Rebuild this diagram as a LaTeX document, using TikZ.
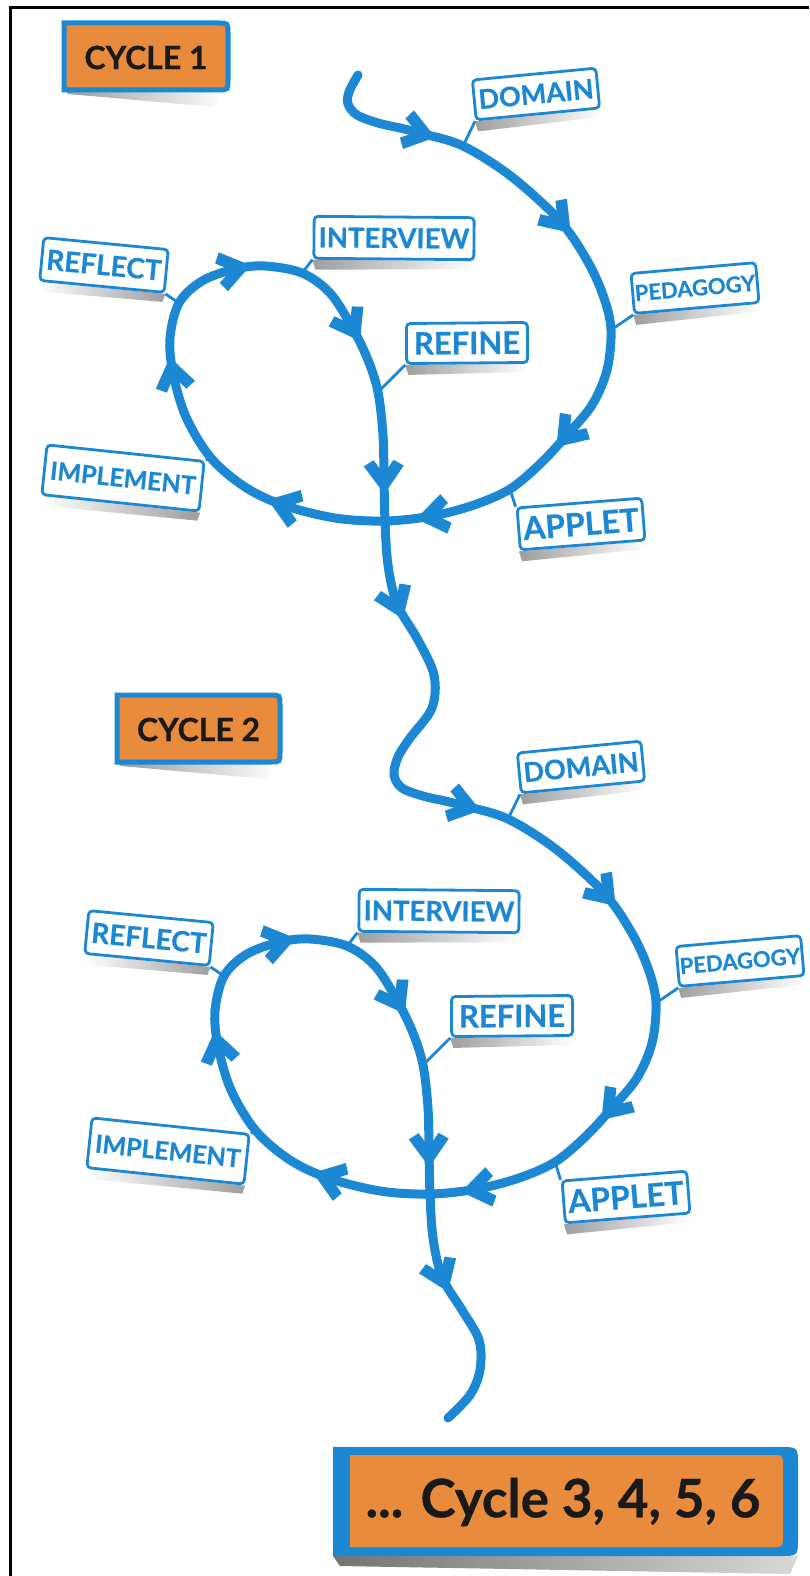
\documentclass[tikz,border=0pt]{standalone}
\usepackage{fontspec}
\setmainfont{Lato}[BoldFeatures={FakeBold=0.6}]
\usetikzlibrary{calc,backgrounds}
\definecolor{cblue}{RGB}{28,136,212}
\definecolor{corange}{RGB}{233,139,60}
\tikzset{
 curve/.style={draw=cblue,line width=9pt,line cap=round,line join=round},
 lab/.style={draw=cblue,line width=2.8pt,fill=white,rounded corners=4pt,text=cblue,inner sep=0pt},
 conn/.style={draw=cblue,line width=2.8pt},
 shR/.style={left color=black!38,right color=white},
 shL/.style={left color=white,right color=black!38},
}
\newcommand\lab[9]{%
  \node[lab,rotate=#4,minimum width=#5pt,minimum height=#6pt,font=\fontsize{#7}{#7}\selectfont\bfseries] (#1) at (#2,#3) {#8};
  \begin{scope}[on background layer]
    \shade[#9] (#1.south west) -- (#1.south east) -- ($(#1.south east)+(-3,8)$) -- ($(#1.south west)+(3,10)$) -- cycle;
  \end{scope}}
\newcommand\arrowmid[3]{%
 \pgfmathanglebetweenpoints{\pgfpointanchor{#1}{center}}{\pgfpointanchor{#3}{center}}%
 \edef\myang{\pgfmathresult}%
 \fill[cblue,shift={(#2)},rotate=\myang] (16,0) -- (-12,-20) -- (-18,-10) -- (-4,0) -- (-18,10) -- (-12,20) -- cycle;}
\newcommand\loopcoords[3]{%
 \coordinate (#1s2) at (357+#2,115+#3);
 \coordinate (#1s3) at (378+#2,123+#3);
 \coordinate (#1s3b) at (400+#2,128+#3);
 \coordinate (#1a1) at (420+#2,133+#3);
 \coordinate (#1dom) at (463+#2,146+#3);
 \coordinate (#1s5) at (512+#2,177+#3);
 \coordinate (#1a2) at (560+#2,221+#3);
 \coordinate (#1s6) at (588+#2,262+#3);
 \coordinate (#1s7) at (604+#2,298+#3);
 \coordinate (#1ped) at (611+#2,330+#3);
 \coordinate (#1s8) at (607+#2,370+#3);
 \coordinate (#1s9) at (592+#2,405+#3);
 \coordinate (#1a3) at (567+#2,435+#3);
 \coordinate (#1s10) at (540+#2,464+#3);
 \coordinate (#1app) at (510+#2,489+#3);
 \coordinate (#1s12) at (474+#2,505+#3);
 \coordinate (#1a4) at (432+#2,516+#3);
 \coordinate (#1x) at (385+#2,521+#3);
 \coordinate (#1s13) at (335+#2,518+#3);
 \coordinate (#1a5) at (283+#2,505+#3);
 \coordinate (#1s14) at (245+#2,487+#3);
 \coordinate (#1imp) at (211+#2,458+#3);
 \coordinate (#1s16) at (186+#2,417+#3);
 \coordinate (#1a6) at (173+#2,373+#3);
 \coordinate (#1s17) at (170+#2,338+#3);
 \coordinate (#1refl) at (179+#2,303+#3);
 \coordinate (#1s19) at (202+#2,281+#3);
 \coordinate (#1a7) at (235+#2,269+#3);
 \coordinate (#1s20) at (265+#2,266+#3);
 \coordinate (#1int) at (302+#2,273+#3);
 \coordinate (#1s22) at (330+#2,293+#3);
 \coordinate (#1a8) at (352+#2,327+#3);
 \coordinate (#1s23) at (368+#2,360+#3);
 \coordinate (#1ref) at (378+#2,392+#3);
 \coordinate (#1s25) at (383+#2,435+#3);
 \coordinate (#1a9) at (384+#2,478+#3);
 \coordinate (#1s26) at (388+#2,565+#3);
 \coordinate (#1a10) at (397+#2,604+#3);
}
\newcommand\arrowset[1]{%
 \arrowmid{#1s3b}{#1a1}{#1dom}
 \arrowmid{#1s5}{#1a2}{#1s6}
 \arrowmid{#1s9}{#1a3}{#1s10}
 \arrowmid{#1s12}{#1a4}{#1x}
 \arrowmid{#1s13}{#1a5}{#1s14}
 \arrowmid{#1s16}{#1a6}{#1s17}
 \arrowmid{#1s19}{#1a7}{#1s20}
 \arrowmid{#1s22}{#1a8}{#1s23}
 \arrowmid{#1s25}{#1a9}{#1x}
}
\newcommand\labelset[3]{%
 \lab{dom#1}{536+#2}{94+#3}{5.5}{124}{40}{27}{DOMAIN}{shR}
 \lab{ped#1}{695+#2}{288+#3}{5}{125}{40}{22}{PEDAGOGY}{shR}
 \lab{app#1}{581+#2}{524+#3}{4.5}{125}{42}{32}{APPLET}{shR}
 \lab{ref#1}{467+#2}{343+#3}{0.5}{121}{40}{31}{REFINE}{shR}
 \lab{int#1}{394+#2}{238+#3}{-0.5}{160}{42}{27.5}{INTERVIEW}{shR}
 \lab{refl#1}{104+#2}{265+#3}{-5.5}{125}{43}{28}{REFLECT}{shL}
 \lab{imp#1}{123+#2}{478+#3}{-6}{158}{50}{25}{IMPLEMENT}{shL}
 \draw[conn] (dom#1.south west) -- (c#1dom);
 \draw[conn] (ped#1.south west) -- (c#1ped);
 \draw[conn] (app#1.north west) -- (c#1app);
 \draw[conn] (ref#1.south west) -- (c#1ref);
 \draw[conn] (int#1.south west) -- (c#1int);
 \draw[conn] (refl#1.south east) -- (c#1refl);
 \draw[conn] (imp#1.north east) -- (c#1imp);
}
\newcommand\cycbox[6]{%
 \begin{scope}[on background layer]
 \shade[left color=black!40,right color=white] (#2,#5) -- (#4-4,#5) -- (#4-14,#5+17) -- (#2+4,#5+4) -- cycle;
 \end{scope}
 \draw[draw=cblue,line width=5pt,fill=corange] (#2,#3) -- (#4-10,#3) .. controls (#4,#3) .. (#4,#3+10) -- (#4,#5-10) .. controls (#4,#5) .. (#4-10,#5) -- (#2,#5) -- cycle;
 \node[font=\fontsize{32}{32}\selectfont\bfseries,text=black!90] (#1) at ({(#2+#4)/2},{(#3+#5)/2+1}) {#6};
}
\begin{document}
\begin{tikzpicture}[x=1pt,y=-1pt]
\useasboundingbox (0,0) rectangle (809,1576);
\begin{scope}[on background layer]
\fill[white] (0,0) rectangle (809,1576);
\end{scope}
% frame
\draw[line width=3pt,black] (10,1576) -- (10,7.5) -- (809,7.5);

% curve coordinates
\loopcoords{c1}{0}{0}
\loopcoords{c2}{45}{673}
\coordinate (st) at (358,75);
\coordinate (h1) at (349,92);
\coordinate (h2) at (348,104);
\coordinate (t1) at (418,640);
\coordinate (t2) at (434,675);
\coordinate (t3) at (432,708);
\coordinate (t4) at (410,738);
\coordinate (t5) at (398,757);
\coordinate (t6) at (394,775);
\coordinate (u1) at (462,1310);
\coordinate (u2) at (479,1340);
\coordinate (u3) at (480,1370);
\coordinate (u4) at (470,1395);
\coordinate (u5) at (448,1418);

\draw[curve] plot[smooth,tension=0.55] coordinates {(st) (h1) (h2) (c1s2) (c1s3) (c1s3b) (c1a1) (c1dom) (c1s5) (c1a2) (c1s6) (c1s7) (c1ped) (c1s8) (c1s9) (c1a3) (c1s10) (c1app) (c1s12) (c1a4) (c1x) (c1s13) (c1a5) (c1s14) (c1imp) (c1s16) (c1a6) (c1s17) (c1refl) (c1s19) (c1a7) (c1s20) (c1int) (c1s22) (c1a8) (c1s23) (c1ref) (c1s25) (c1a9) (c1x) (c1s26) (c1a10) (t1) (t2) (t3) (t4) (t5) (t6) (c2s2) (c2s3) (c2s3b) (c2a1) (c2dom) (c2s5) (c2a2) (c2s6) (c2s7) (c2ped) (c2s8) (c2s9) (c2a3) (c2s10) (c2app) (c2s12) (c2a4) (c2x) (c2s13) (c2a5) (c2s14) (c2imp) (c2s16) (c2a6) (c2s17) (c2refl) (c2s19) (c2a7) (c2s20) (c2int) (c2s22) (c2a8) (c2s23) (c2ref) (c2s25) (c2a9) (c2x) (c2s26) (c2a10) (u1) (u2) (u3) (u4) (u5)};

\arrowset{c1}
\arrowset{c2}
\arrowmid{c1s26}{c1a10}{t1}
\arrowmid{c2s26}{c2a10}{u1}

\labelset{1}{0}{0}
\labelset{2}{45}{673}

\cycbox{cyc1}{64}{23}{228}{90}{CYCLE 1}
\cycbox{cyc2}{117}{695}{280}{762}{CYCLE 2}

% final box
\begin{scope}[on background layer]
\shade[left color=black!55,right color=black!15] (333,1556) -- (798,1556) -- (790,1574) -- (340,1566) -- cycle;
\end{scope}
\fill[cblue] (333,1447) -- (780,1447) .. controls (798,1447) .. (798,1465) -- (798,1538) .. controls (798,1556) .. (780,1556) -- (333,1556) -- cycle;
\fill[corange] (350,1455) -- (771,1455) .. controls (783,1455) .. (783,1467) -- (783,1535) .. controls (783,1547) .. (771,1547) -- (350,1547) -- cycle;
\node[font=\fontsize{53}{53}\selectfont\bfseries,text=black!90] (fin) at (563,1502) {... Cycle 3, 4, 5, 6};
\end{tikzpicture}
\end{document}
